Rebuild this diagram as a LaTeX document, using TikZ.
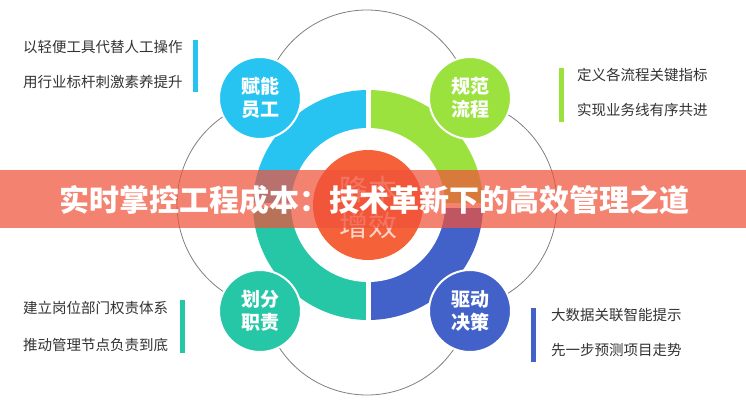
\documentclass[tikz,border=0pt]{standalone}
\usepackage{fontspec}
\setmainfont{Noto Sans CJK SC}
\definecolor{cyanq}{RGB}{39,196,242}
\definecolor{greenq}{RGB}{155,226,62}
\definecolor{tealq}{RGB}{38,199,166}
\definecolor{blueq}{RGB}{66,98,202}
\definecolor{orangeq}{RGB}{245,98,58}
\definecolor{bannerc}{RGB}{240,82,58}
\definecolor{txt}{RGB}{51,51,51}
\definecolor{arcgray}{RGB}{128,128,128}
\begin{document}
\begin{tikzpicture}[x=1pt,y=1pt,
  side/.style={anchor=west,inner sep=0pt,text=txt,font=\fontsize{14.5}{16}\selectfont},
  bubble/.style={circle,minimum size=82pt,inner sep=0pt,draw=white,line width=2pt,text=white,align=center,font=\bfseries\fontsize{19}{23}\selectfont},
  bar/.style={line width=5pt},
  petal/.style={draw=arcgray,line width=0.8pt},
  titlestyle/.style={text=white,font=\bfseries\fontsize{30}{36}\selectfont,inner sep=0pt}
]
\useasboundingbox (0,0) rectangle (746,-400);
\fill[white] (0,0) rectangle (746,-400);
\coordinate (C) at (368,-205);
% petal arcs
\coordinate (pt) at (367,-115);
\coordinate (pb) at (367,-290);
\coordinate (pl) at (283,-204);
\coordinate (pr) at (451,-204);
\draw[petal] (pt) ++(30:105) arc[start angle=30,end angle=150,radius=105];
\draw[petal] (pb) ++(210:105) arc[start angle=210,end angle=330,radius=105];
\draw[petal] (pl) ++(122:106) arc[start angle=122,end angle=238,radius=106];
\draw[petal] (pr) ++(-58:106) arc[start angle=-58,end angle=58,radius=106];
% ring
\fill[greenq] (C) -- ++(0:115) arc[start angle=0,end angle=90,radius=115] -- cycle;
\fill[cyanq] (C) -- ++(90:115) arc[start angle=90,end angle=180,radius=115] -- cycle;
\fill[tealq] (C) -- ++(180:115) arc[start angle=180,end angle=270,radius=115] -- cycle;
\fill[blueq] (C) -- ++(270:115) arc[start angle=270,end angle=360,radius=115] -- cycle;
\draw[white,line width=5pt] (C) ++(0,118) -- ++(0,-236);
\draw[white,line width=5pt] (C) ++(-118,0) -- ++(236,0);
\fill[white] (C) circle[radius=77];
\fill[orangeq] (C) circle[radius=55];
\node[font=\fontsize{29}{36}\selectfont,text=white,text opacity=0.72,align=center,inner sep=0pt] (ctr) at (368,-208) {降本\\增效};
% bubbles
\node[bubble,fill=cyanq] (b1) at (260,-98) {赋能\\员工};
\node[bubble,fill=greenq] (b2) at (470,-98) {规范\\流程};
\node[bubble,fill=tealq] (b3) at (260,-311) {划分\\职责};
\node[bubble,fill=blueq] (b4) at (470,-311) {驱动\\决策};
% side texts
\node[side] (t1a) at (23,-47) {以轻便工具代替人工操作};
\node[side] (t1b) at (23,-82) {用行业标杆刺激素养提升};
\draw[bar,cyanq] (195,-40) -- (195,-92);
\node[side] (t2a) at (577,-75) {定义各流程关键指标};
\node[side] (t2b) at (577,-110) {实现业务线有序共进};
\draw[bar,greenq] (561,-68) -- (561,-122);
\node[side] (t3a) at (23,-308) {建立岗位部门权责体系};
\node[side] (t3b) at (23,-345) {推动管理节点负责到底};
\draw[bar,tealq] (182,-300) -- (182,-353);
\node[side] (t4a) at (551,-315) {大数据关联智能提示};
\node[side] (t4b) at (551,-350) {先一步预测项目走势};
\draw[bar,blueq] (533,-308) -- (533,-362);
% banner
\fill[bannerc,opacity=0.72] (0,-170) rectangle (746,-228);
\node[titlestyle] (title) at (374,-200) {实时掌控工程成本：技术革新下的高效管理之道};
\end{tikzpicture}
\end{document}
